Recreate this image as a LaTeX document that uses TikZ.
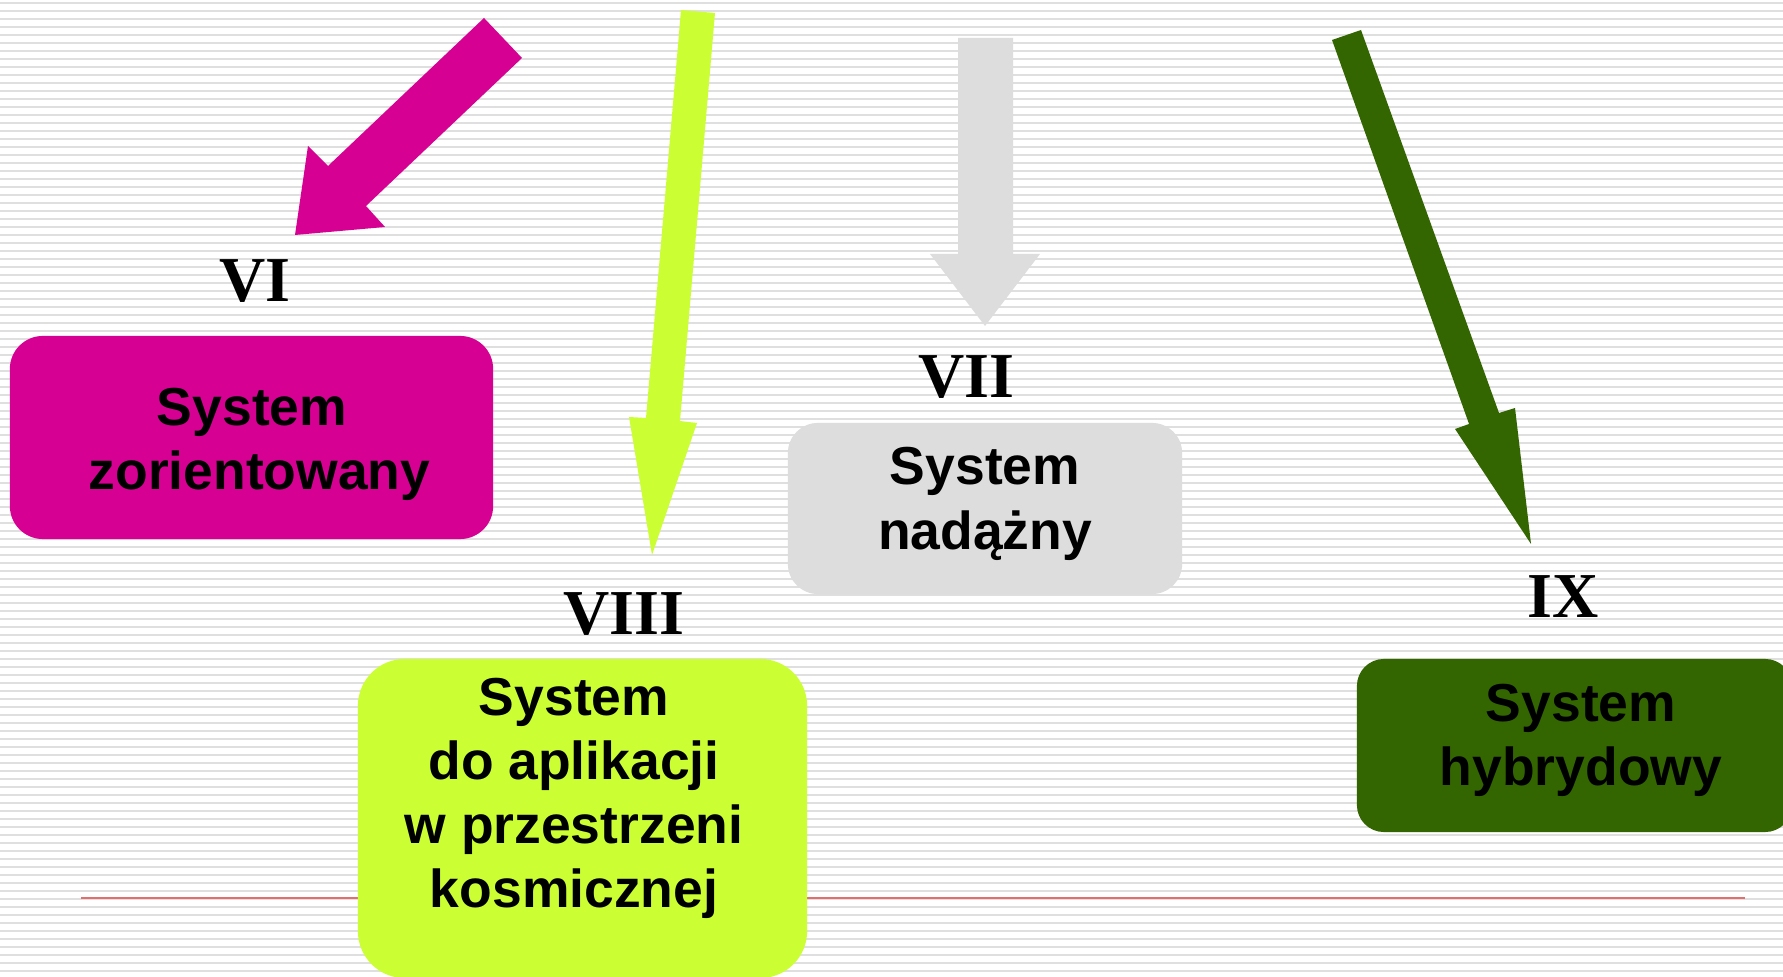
\documentclass[tikz,border=0pt]{standalone}
\usepackage{fontspec}
\setmainfont{Liberation Serif}
\newfontfamily\boxfont{Liberation Sans}
\usetikzlibrary{positioning}
\definecolor{sysPink}{RGB}{214,0,147}
\definecolor{sysLime}{RGB}{204,255,51}
\definecolor{sysGray}{RGB}{221,221,221}
\definecolor{sysGreen}{RGB}{51,102,0}
\definecolor{ruleRed}{RGB}{226,110,110}
\tikzset{
    stripe/.style={draw=gray!25, line width=0.022cm},
    sys box/.style={rectangle, inner sep=0, draw=none},
    sys text/.style={font=\boxfont\bfseries\fontsize{15.2pt}{18.2pt}\selectfont, align=center, inner sep=0, anchor=north},
    roman/.style={font=\bfseries\fontsize{18.2pt}{20pt}\selectfont, inner sep=0, anchor=base},
    big arrow/.style={draw=none}
}
\begin{document}
\begin{tikzpicture}[x=0.01cm, y=-0.01cm]
    \clip (0,0) rectangle (1783,977);
    \fill[white] (0,0) rectangle (1783,977);
    \foreach \k in {0,...,121}
        \draw[stripe] (0,{2.8+8*\k}) -- (1783,{2.8+8*\k});
    \draw[ruleRed, line width=0.015cm] (81,898) -- (1745,898);

    \node[sys box, fill=sysPink, rounded corners=0.33cm, minimum width=4.83cm, minimum height=2.03cm] (orient) at (251.5,437.5) {};
    \node[sys box, fill=sysGray, rounded corners=0.30cm, minimum width=3.94cm, minimum height=1.71cm] (nadazny) at (985,508.5) {};
    \node[sys box, fill=sysLime, rounded corners=0.47cm, minimum width=4.49cm, minimum height=3.19cm] (kosm) at (582.5,818.5) {};
    \node[sys box, fill=sysGreen, rounded corners=0.27cm, minimum width=4.35cm, minimum height=1.73cm] (hybryd) at (1574.5,745.5) {};

    \fill[sysPink, big arrow] (484,18) -- (522,58) -- (366,206) -- (385,227) -- (295,235) -- (308,146) -- (328,166) -- cycle;
    \fill[sysLime, big arrow] (681,10) -- (715,13) -- (680,421) -- (697,423) -- (652,555) -- (629,417) -- (646,418) -- cycle;
    \fill[sysGray, big arrow] (958,38) -- (1013,38) -- (1013,254) -- (1040,254) -- (985,326) -- (930,254) -- (958,254) -- cycle;
    \fill[sysGreen, big arrow] (1332,40) -- (1361,30) -- (1499,413) -- (1515,408) -- (1531,544) -- (1455,429) -- (1469,424) -- cycle;

    \node[roman] (nVI) at (255,302) {VI};
    \node[roman] (nVII) at (966,398) {VII};
    \node[roman] (nVIII) at (624,635) {VIII};
    \node[roman] (nIX) at (1563,618) {IX};

    \node[sys text] (orient-t) at (252,387) {System\\\ zorientowany};
    \node[sys text, font=\boxfont\bfseries\fontsize{15.2pt}{18.5pt}\selectfont] (nadazny-t) at (985,446) {System\\nadążny};
    \node[sys text] (kosm-t) at (574,677) {System\\do aplikacji\\w przestrzeni\\kosmicznej};
    \node[sys text] (hybryd-t) at (1581,683) {System\\hybrydowy};
\end{tikzpicture}
\end{document}
